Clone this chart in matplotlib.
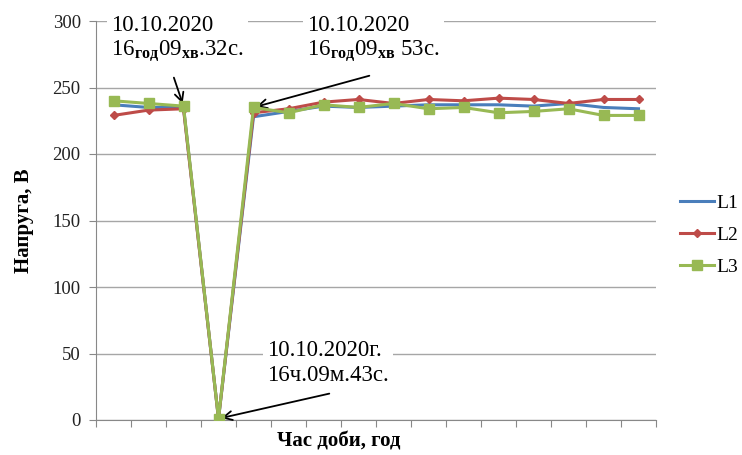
import matplotlib
matplotlib.use("Agg")
import matplotlib.pyplot as plt
import numpy as np

# measurement points (x categories have no visible labels)
points = list(range(16))
l1 = [237, 235, 235, 1, 228, 232, 236, 235, 236, 237, 237, 237, 236, 238, 235, 234]
l2 = [229, 233, 234, 1, 231, 234, 239, 241, 238, 241, 240, 242, 241, 238, 241, 241]
l3 = [240, 238, 236, 1, 235, 231, 237, 235, 238, 234, 235, 231, 232, 234, 229, 229]
y_ticks = [0, 50, 100, 150, 200, 250, 300]

plt.rcParams["font.family"] = ["Liberation Serif", "DejaVu Serif"]
plt.rcParams["mathtext.fontset"] = "custom"
plt.rcParams["mathtext.rm"] = "Liberation Serif"
plt.rcParams["mathtext.bf"] = "Liberation Serif:bold"

W, H = 742, 455
fig = plt.figure(figsize=(W / 100, H / 100), dpi=100)
ax = fig.add_axes([96 / W, 1 - 420 / H, (656 - 96) / W, (420 - 21) / H])

blue, red, green = "#4a7ebb", "#be4b48", "#98b954"
ax.plot(points, l1, color=blue, lw=2.2, label="L1", zorder=3)
ax.plot(points, l2, color=red, lw=2.2, marker="D", ms=4.5, label="L2", zorder=4)
ax.plot(points, l3, color=green, lw=2.2, marker="s", ms=6.5, label="L3", zorder=5)

ax.set_xlim(-0.5, len(points) - 0.5)
ax.set_ylim(0, 300)
ax.set_yticks(y_ticks)
ax.set_xticks(np.arange(-0.5, len(points) + 0.5, 1))
ax.set_xticklabels([])
ax.tick_params(axis="x", direction="out", length=5, color="#888888")
ax.tick_params(axis="y", direction="out", length=5, color="#888888",
               labelsize=13.5, labelcolor="#222222", pad=6)
ax.grid(axis="y", color="#a6a6a6", lw=1)
ax.set_axisbelow(True)
for s in ["top", "right"]:
    ax.spines[s].set_visible(False)
for s in ["left", "bottom"]:
    ax.spines[s].set_color("#888888")

ax.set_ylabel("Напруга, В", fontsize=15, fontweight="bold")
ax.yaxis.set_label_coords(-0.11, 0.5)
fig.text(339 / W, 1 - 442 / H, "Час доби, год", fontsize=15, fontweight="bold",
         ha="center", va="center")

leg = fig.legend(loc="center left", bbox_to_anchor=(680 / W, 1 - 235 / H),
                 frameon=False, fontsize=14, handlelength=1.75, handletextpad=0.1,
                 labelspacing=0.75, borderpad=0, borderaxespad=0)

box = dict(facecolor="white", edgecolor="none", pad=3)
fig.text(111 / W, 1 - 40 / H, "10.10.2020\n16$_{\\mathbf{год}}$09$_{\\mathbf{хв}}$.32с.",
         fontsize=16.5, ha="left", va="center", linespacing=1.2, bbox=box)
fig.text(307 / W, 1 - 40 / H, "10.10.2020\n16$_{\\mathbf{год}}$09$_{\\mathbf{хв}}$ 53с.",
         fontsize=16.5, ha="left", va="center", linespacing=1.2, bbox=box)
fig.text(267 / W, 1 - 363 / H, "10.10.2020г.\n16ч.09м.43с.",
         fontsize=16.5, ha="left", va="center", linespacing=1.2, bbox=box)

arrow = dict(arrowstyle="->", color="black", lw=1.3, mutation_scale=16)
ax.annotate("", xy=(2, l3[2]), xytext=(173, H - 75), textcoords="figure pixels",
            arrowprops=arrow)
ax.annotate("", xy=(4, l3[4]), xytext=(372, H - 75), textcoords="figure pixels",
            arrowprops=arrow)
ax.annotate("", xy=(3, l3[3]), xytext=(332, H - 393), textcoords="figure pixels",
            arrowprops=arrow)

fig.savefig("out.png", dpi=100)
